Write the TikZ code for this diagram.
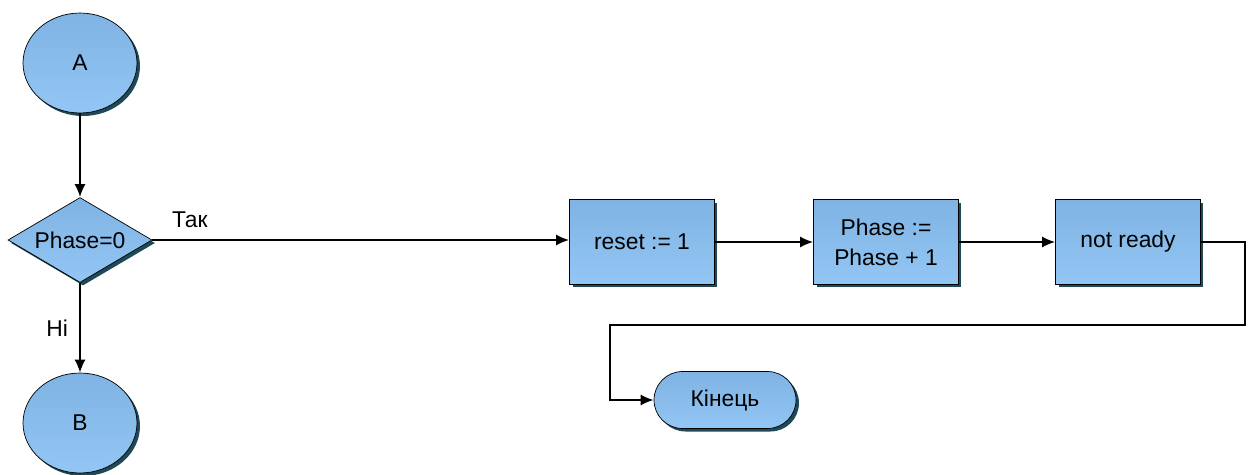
\documentclass[tikz,border=0pt]{standalone}
\usepackage{fontspec}
\setmainfont{Liberation Sans}
\usepackage{tikz}
\usetikzlibrary{calc,arrows.meta,shapes.geometric,shapes.misc,shadows}
\definecolor{topc}{HTML}{7FB3E3}
\definecolor{botc}{HTML}{93C6F4}
\definecolor{shadc}{HTML}{1D4A56}
\tikzset{
  blk/.style={draw=black,thin,top color=topc,bottom color=botc,
    drop shadow={opacity=1,fill=shadc,shadow xshift=0.06cm,shadow yshift=-0.06cm},
    font=\fontsize{13}{17}\selectfont,align=center,inner sep=0pt},
  conn/.style={ellipse,blk,minimum width=2.28cm,minimum height=2cm},
  dec/.style={diamond,blk,aspect=1.7,minimum width=2.88cm,minimum height=1.7cm},
  act/.style={rectangle,blk,minimum width=2.9cm,minimum height=1.7cm},
  term/.style={rounded rectangle,blk,minimum width=2.84cm,minimum height=1.14cm},
  lbl/.style={font=\fontsize{13}{15}\selectfont},
  flow/.style={-{Latex[length=2.6mm,width=2.2mm]},line width=1pt}
}
\begin{document}
\begin{tikzpicture}[x=0.02cm,y=-0.02cm]
                      \useasboundingbox (0,0) rectangle (1248,474);
                      \node[conn](a)at(80,63){A};
                      \node[dec](p)at(80,240){Phase=0};
                      \node[act](r)at(642,242){reset := 1};
                      \node[act](f)at(886,242){Phase :=\\Phase + 1};
                      \node[act](n)at(1128,242){not ready};
                      \node[term](k)at(725,400){Кінець};
                      \node[conn](b)at(80,423){B};
                      \draw[flow] (a)--(p);
                      \draw[flow] (p.east)--(p.east-|r.west) node[lbl,pos=0.09,above=3pt] {Так};
                      \draw[flow] (p)--(b) node[lbl,midway,left=3pt] {Ні};
                      \draw[flow] (r)--(f);
                      \draw[flow] (f)--(n);
                      \draw[flow] (n.east)-|(1245,325)-|(610,400)--(k.west);
                  \end{tikzpicture}
\end{document}
